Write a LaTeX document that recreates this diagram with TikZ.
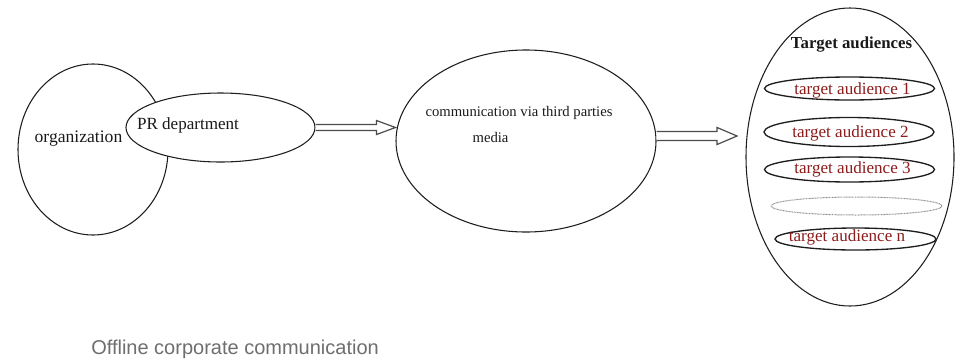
\documentclass[tikz,border=0pt]{standalone}
\usepackage{fontspec}
\setmainfont{Liberation Serif}
\newfontfamily\captionfont{Liberation Sans}
\usetikzlibrary{shapes.geometric,calc}

\definecolor{inkline}{RGB}{30,30,30}
\definecolor{audred}{RGB}{140,28,28}
\definecolor{capgray}{RGB}{110,110,110}

% hollow block arrow between two points: #3 shaft half-width, #4 head half-width, #5 head length (pt)
\newcommand\hollowarrow[5]{%
  \draw[arrowline] let \p1=(#1), \p2=(#2) in
    (\x1,\y1+#3) -- (\x2-#5,\y1+#3) -- (\x2-#5,\y1+#4) -- (\x2,\y1)
    -- (\x2-#5,\y1-#4) -- (\x2-#5,\y1-#3) -- (\x1,\y1-#3);}

\begin{document}
\begin{tikzpicture}[x=0.75pt,y=-0.75pt,
  ell/.style={ellipse, draw=inkline, line width=0.8pt, inner sep=0pt},
  subell/.style={ellipse, draw=inkline, line width=1pt, inner sep=0pt,
                 minimum width=170*0.75pt},
  dotell/.style={ellipse, draw=gray!85, line width=0.75pt, inner sep=0pt,
                 dash pattern=on 0.7pt off 0.45pt},
  arrowline/.style={draw=black!70, line width=0.9pt, fill=white, line join=miter},
  lbl/.style={inner sep=0pt, text=black!90},
  audlbl/.style={inner sep=0pt, text=audred, font=\fontsize{12.8}{14}\selectfont},
]
\useasboundingbox (0,0) rectangle (955,361);

% organization with its PR department
\node[ell, minimum width=150*0.75pt, minimum height=171*0.75pt] (org) at (93,149.5) {};
\node[ell, fill=white, minimum width=189*0.75pt, minimum height=69*0.75pt] (pr) at (220.5,127.5) {};
\node[lbl, font=\fontsize{13.2}{15}\selectfont] (orgtxt) at (78.5,139) {organization};
\node[lbl, font=\fontsize{12.8}{15}\selectfont] (prtxt) at (188,125) {PR department};

% third-party communication channel
\node[ell, minimum width=260*0.75pt, minimum height=182*0.75pt] (cm) at (526,141) {};
\node[lbl, font=\fontsize{11}{13}\selectfont] (cmtxt) at (519,113) {communication via third parties};
\node[lbl, font=\fontsize{11}{13}\selectfont] (mediatxt) at (490.5,137) {media};

% target audiences
\node[ell, minimum width=208*0.75pt, minimum height=298*0.75pt] (ta) at (850,157) {};
\node[lbl, font=\bfseries\fontsize{12.6}{15}\selectfont] (tatxt) at (851.5,45) {Target audiences};

\node[subell, minimum height=23*0.75pt] (t1) at (849.5,88.5) {};
\node[subell, minimum height=29*0.75pt] (t2) at (849,132) {};
\node[subell, minimum height=25*0.75pt] (t3) at (849.5,169.5) {};
\node[dotell, minimum width=171*0.75pt, minimum height=18*0.75pt] (tdots) at (856.5,206) {};
\node[subell, minimum width=161*0.75pt, minimum height=22*0.75pt] (tn) at (855.5,239) {};

\node[audlbl] at (852.5,90) {target audience 1};
\node[audlbl] at (850.5,133) {target audience 2};
\node[audlbl] at (852.5,169) {target audience 3};
\node[audlbl] at (847,237) {target audience n};

% flow arrows
\coordinate (a1e) at (cm.west |- pr.east);
\coordinate (a2e) at (737,136);
\coordinate (a2s) at (cm.east |- a2e);
\hollowarrow{pr.east}{a1e}{2.25pt}{5.25pt}{14.25pt}
\hollowarrow{a2s}{a2e}{3.4pt}{6.4pt}{15pt}

% caption
\node[anchor=west, inner sep=0pt, text=capgray, font=\captionfont\fontsize{15}{18}\selectfont]
  (cap) at (91,349) {Offline corporate communication};
\end{tikzpicture}
\end{document}
